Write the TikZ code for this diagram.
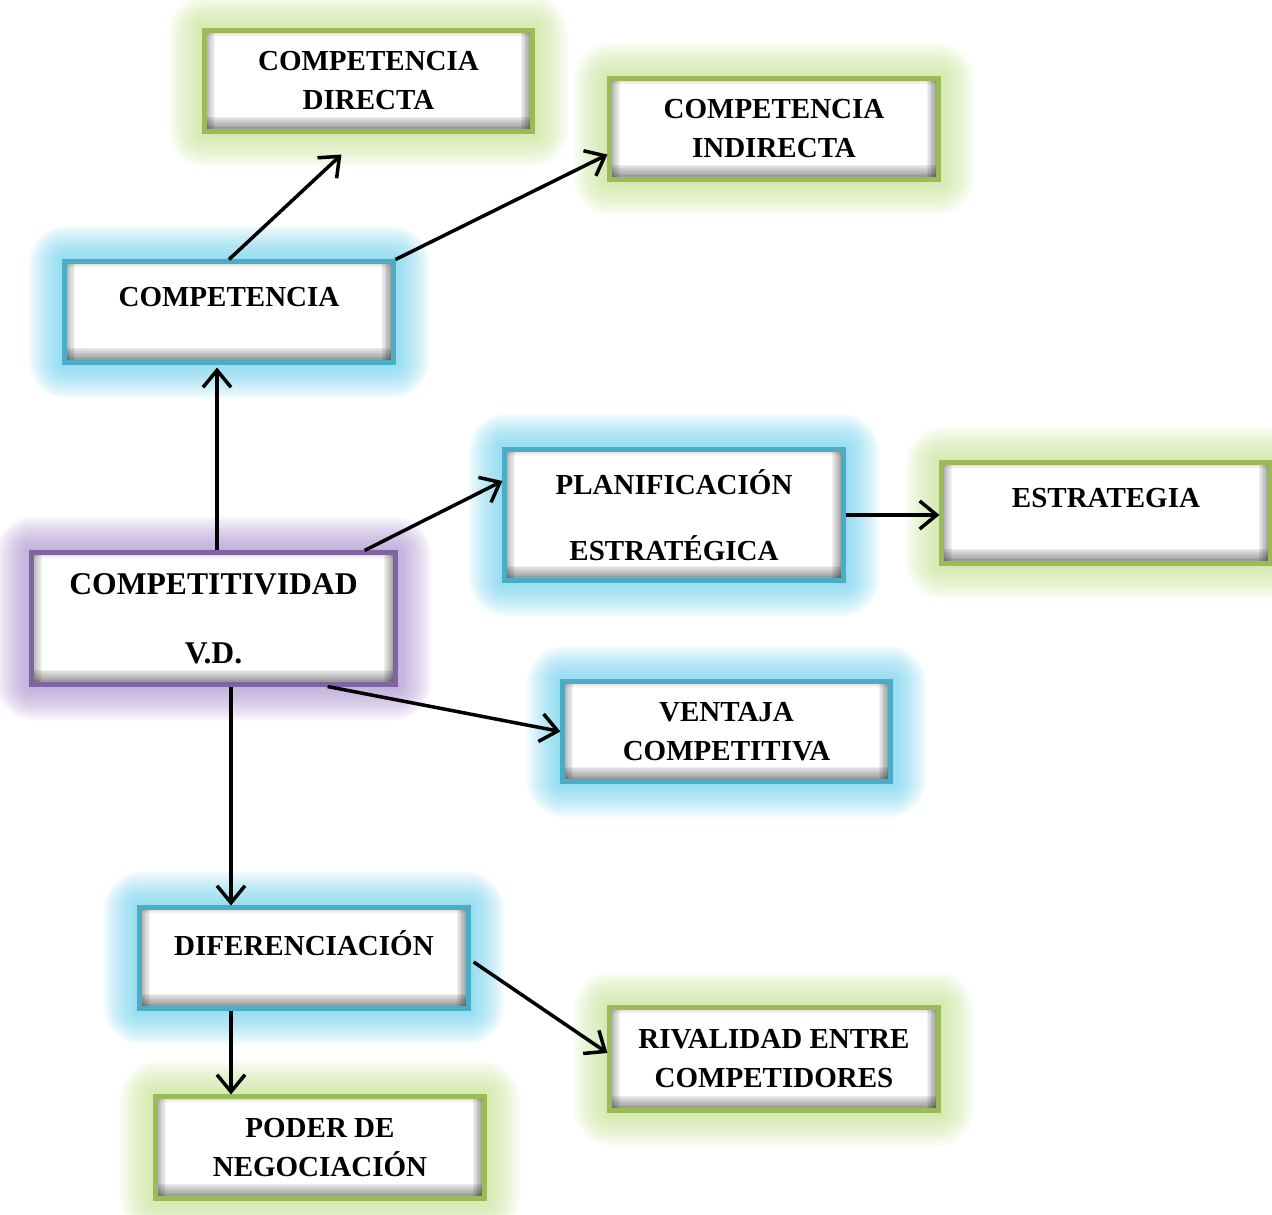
\documentclass[tikz,border=0pt]{standalone}
\usepackage{fontspec}
\setmainfont{Liberation Serif}
\usetikzlibrary{arrows.meta,calc}
\pgfdeclarelayer{background}
\pgfdeclarelayer{paper}
\pgfsetlayers{paper,background,main}
\definecolor{bordG}{RGB}{155,187,89}
\definecolor{bordB}{RGB}{75,172,198}
\definecolor{bordP}{RGB}{128,100,162}
\definecolor{glowG}{RGB}{195,228,140}
\definecolor{glowB}{RGB}{100,208,240}
\definecolor{glowP}{RGB}{170,140,208}
\tikzset{
  box/.style={rectangle, draw, line width=0.05cm, fill=white,
    minimum width=3.28cm, minimum height=1cm, inner sep=0pt,
    align=center, font=\fontsize{8.25}{11.1}\selectfont\bfseries,
    path picture={
      % inner bevel: stacked translucent strips, darkest at the edge
      \foreach \k in {1,...,8}{
        \fill[black, fill opacity=0.045]
          (path picture bounding box.south west) rectangle ([xshift=\k*0.13mm]path picture bounding box.north west);
        \fill[black, fill opacity=0.025]
          (path picture bounding box.north west) rectangle ([yshift=-\k*0.07mm]path picture bounding box.north east);
        \fill[black, fill opacity=0.06]
          ([xshift=-\k*0.14mm]path picture bounding box.south east) rectangle (path picture bounding box.north east);
        \fill[black, fill opacity=0.065]
          ([yshift=\k*0.18mm]path picture bounding box.south west) rectangle (path picture bounding box.south east);
      }
    }},
  greenbox/.style={box, draw=bordG},
  bluebox/.style={box, draw=bordB},
  purplebox/.style={box, draw=bordP},
  oneline/.style={text depth=0.3cm},
  conn/.style={line width=0.035cm, -{Straight Barb[length=0.17cm,width=0.28cm]}},
}
\begin{document}
\begin{tikzpicture}[x=0.01cm,y=-0.01cm]
\begin{pgfonlayer}{paper}
\fill[white] (0,0) rectangle (1272,1215);
\end{pgfonlayer}

% boxes
\node[greenbox, minimum width=3.27cm] (cd) at (368.5,81) {COMPETENCIA\\DIRECTA};
\node[greenbox] (ci) at (774,129) {COMPETENCIA\\INDIRECTA};
\node[bluebox, oneline] (comp) at (229,312) {COMPETENCIA};
\node[bluebox, minimum width=3.38cm, minimum height=1.3cm] (pe) at (674,515) {PLANIFICACIÓN\\[7.5pt]ESTRATÉGICA};
\node[greenbox, oneline] (es) at (1106,513) {ESTRATEGIA};
\node[purplebox, minimum width=3.63cm, minimum height=1.31cm,
      font=\fontsize{9}{11}\selectfont\bfseries] (cv) at (213.5,618.5) {COMPETITIVIDAD\\[8.6pt]V.D.};
\node[bluebox, minimum width=3.27cm, minimum height=0.99cm] (vc) at (726.5,731.5) {VENTAJA\\COMPETITIVA};
\node[bluebox, oneline] (dif) at (304,958) {DIFERENCIACIÓN};
\node[greenbox, minimum height=1.02cm] (rv) at (774,1059) {RIVALIDAD ENTRE\\COMPETIDORES};
\node[greenbox, minimum height=1.01cm] (pn) at (320,1147.5) {PODER DE\\NEGOCIACIÓN};

% soft glow behind each box
\begin{pgfonlayer}{background}
\foreach \n/\c in {cd/glowG,ci/glowG,es/glowG,rv/glowG,pn/glowG,
                   comp/glowB,pe/glowB,vc/glowB,dif/glowB,cv/glowP}{
  \foreach \i in {1,...,12}{
    \fill[\c, fill opacity=0.08, rounded corners=\i*0.9pt]
      ([shift={(-2.8*\i,-2.8*\i)}]\n.north west) rectangle ([shift={(2.8*\i,2.8*\i)}]\n.south east);
  }
}
\end{pgfonlayer}

% connectors
\draw[conn] (comp.north) -- ([shift={(-27,21)}]cd.south);
\draw[conn] (comp.north east) -- ([shift={(0,-27)}]ci.south west);
\draw[conn] ([shift={(3.5,0)}]cv.north) -- ([shift={(-12,3)}]comp.south);
\draw[conn] ([shift={(-33,0)}]cv.north east) -- ([shift={(0,-34)}]pe.west);
\draw[conn] (pe.east) -- (pe.east -| es.west);
\draw[conn] ([shift={(-70,0)}]cv.south east) -- (vc.west);
\coordinate (cvs) at ([shift={(17.5,0)}]cv.south);
\draw[conn] (cvs) -- (cvs |- dif.north);
\draw[conn] ([shift={(3,4)}]dif.east) -- ([shift={(0,-6)}]rv.west);
\coordinate (difs) at ([shift={(-73,0)}]dif.south);
\draw[conn] (difs) -- (difs |- pn.north);

% page frame
\pgfresetboundingbox
\useasboundingbox (0,0) rectangle (1272,1215);
\end{tikzpicture}
\end{document}
